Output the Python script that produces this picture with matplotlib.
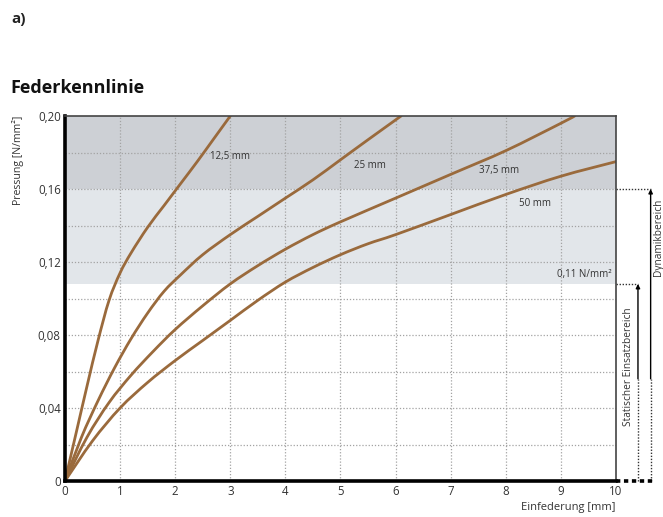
import matplotlib
matplotlib.use("Agg")
import matplotlib.pyplot as plt
from matplotlib.path import Path
from matplotlib.patches import PathPatch

plt.rcParams['font.family'] = ['Open Sans', 'DejaVu Sans']

# Spring characteristic curves: deflection [mm] vs. pressure [N/mm²] per thickness
x_125 = [0, 0.2, 0.4, 0.6, 0.8, 1.0, 1.2, 1.5, 1.8, 2.1, 2.4, 2.7, 3.0]
y_125 = [0, 0.026, 0.052, 0.077, 0.099, 0.114, 0.125, 0.139, 0.151, 0.163, 0.175, 0.1875, 0.20]

x_25 = [0, 0.3, 0.6, 0.9, 1.2, 1.5, 1.8, 2.1, 2.5, 3.0, 3.5, 4.0, 4.5, 5.0, 5.5, 6.1]
y_25 = [0, 0.024, 0.044, 0.062, 0.078, 0.092, 0.104, 0.113, 0.124, 0.135, 0.145,
        0.155, 0.165, 0.176, 0.187, 0.20]

x_375 = [0, 0.4, 0.8, 1.2, 1.6, 2.0, 2.5, 3.0, 3.5, 4.0, 4.5, 5.0, 6.0, 7.0, 8.0, 9.0, 9.25]
y_375 = [0, 0.024, 0.043, 0.058, 0.071, 0.083, 0.096, 0.108, 0.118, 0.127, 0.135,
         0.142, 0.155, 0.168, 0.181, 0.196, 0.20]

x_50 = [0, 0.5, 1.0, 1.5, 2.0, 2.5, 3.0, 3.5, 4.0, 4.5, 5.0, 5.5, 6.0, 7.0, 8.0, 9.0, 10.0]
y_50 = [0, 0.022, 0.040, 0.054, 0.066, 0.077, 0.088, 0.099, 0.109, 0.117, 0.124,
        0.130, 0.135, 0.146, 0.157, 0.167, 0.175]

curve_labels = ["12,5 mm", "25 mm", "37,5 mm", "50 mm"]
label_pos = [(3.0, 0.178), (5.54, 0.173), (7.88, 0.170), (8.53, 0.152)]

x_ticks = [0, 1, 2, 3, 4, 5, 6, 7, 8, 9, 10]
y_ticks = [0, 0.04, 0.08, 0.12, 0.16, 0.20]
y_tick_labels = ["0", "0,04", "0,08", "0,12", "0,16", "0,20"]

static_limit = 0.108   # upper end of static range (0,11 N/mm²)
dynamic_limit = 0.16   # upper end of dynamic range

curve_color = "#9a6a3c"
text_color = "#333333"


def smooth_path(xs, ys):
    """Catmull-Rom curve through the given points, as cubic Bezier segments."""
    pts = list(zip(xs, ys))
    verts = [pts[0]]
    codes = [Path.MOVETO]
    n = len(pts)
    for i in range(n - 1):
        p0 = pts[i - 1] if i > 0 else pts[i]
        p1 = pts[i]
        p2 = pts[i + 1]
        p3 = pts[i + 2] if i + 2 < n else pts[i + 1]
        c1 = (p1[0] + (p2[0] - p0[0]) / 6, p1[1] + (p2[1] - p0[1]) / 6)
        c2 = (p2[0] - (p3[0] - p1[0]) / 6, p2[1] - (p3[1] - p1[1]) / 6)
        verts += [c1, c2, p2]
        codes += [Path.CURVE4] * 3
    return Path(verts, codes)


fig = plt.figure(figsize=(6.63, 5.17), dpi=100)
ax = fig.add_axes([0.098, 0.0696, 0.831, 0.706])

ax.set_xlim(0, 10)
ax.set_ylim(0, 0.20)

# Shaded ranges
ax.axhspan(dynamic_limit, 0.20, color="#cdd0d5", zorder=0, lw=0)
ax.axhspan(static_limit, dynamic_limit, color="#e2e6ea", zorder=0, lw=0)

# Dotted grid
for gx in range(1, 10):
    ax.axvline(gx, color="#a3a3a3", lw=0.9, ls=(0, (1, 1.5)), zorder=1)
for gy in [0.02, 0.04, 0.06, 0.08, 0.10, 0.12, 0.14, 0.16, 0.18]:
    ax.axhline(gy, color="#a3a3a3", lw=0.9, ls=(0, (1, 1.5)), zorder=1)

for xs, ys in [(x_125, y_125), (x_25, y_25), (x_375, y_375), (x_50, y_50)]:
    patch = PathPatch(smooth_path(xs, ys), facecolor="none", edgecolor=curve_color,
                      lw=2.0, zorder=3, capstyle="round", joinstyle="round")
    ax.add_patch(patch)

for lab, (lx, ly) in zip(curve_labels, label_pos):
    ax.text(lx, ly, lab, ha="center", va="center", fontsize=7.0,
            color=text_color, zorder=4)

ax.text(9.93, static_limit + 0.002, "0,11 N/mm²", ha="right", va="bottom",
        fontsize=7.0, color=text_color, zorder=4)

# Axes styling
ax.set_xticks(x_ticks)
ax.set_xticklabels([str(t) for t in x_ticks])
ax.set_yticks(y_ticks)
ax.set_yticklabels(y_tick_labels)
ax.tick_params(length=0, labelsize=8.3, colors=text_color, pad=3)
for s in ["left", "bottom"]:
    ax.spines[s].set_linewidth(2.6)
    ax.spines[s].set_color("black")
for s in ["top", "right"]:
    ax.spines[s].set_linewidth(1.2)
    ax.spines[s].set_color("#444444")
for sp in ax.spines.values():
    sp.set_zorder(5)

ax.text(-0.085, 1.0, "Pressung [N/mm²]", transform=ax.transAxes, rotation=90,
        ha="center", va="top", fontsize=7.6, color=text_color)
ax.text(1.0, -0.058, "Einfederung [mm]", transform=ax.transAxes,
        ha="right", va="top", fontsize=8.0, color=text_color)

# Range markers to the right of the plot
x_stat = 10.40
x_dyn = 10.63
y_solid_end = 0.056
dot = dict(color="#333333", lw=1.0, ls=(0, (1, 1.2)), clip_on=False)

ax.plot([10, x_stat], [static_limit, static_limit], **dot)
ax.plot([10, x_dyn], [dynamic_limit, dynamic_limit], **dot)
ax.plot([x_stat, x_stat], [0, y_solid_end], **dot)
ax.plot([x_dyn, x_dyn], [0, y_solid_end], **dot)
ax.plot([10, 10.71], [0, 0], color="black", lw=2.6, ls=(0, (1.2, 1.0)),
        clip_on=False)

arrow = dict(arrowstyle="-|>", color="black", lw=1.0, mutation_scale=6,
             shrinkA=0, shrinkB=0)
ax.annotate("", xy=(x_stat, static_limit), xytext=(x_stat, y_solid_end),
            arrowprops=arrow, annotation_clip=False)
ax.annotate("", xy=(x_dyn, dynamic_limit), xytext=(x_dyn, y_solid_end),
            arrowprops=arrow, annotation_clip=False)

ax.text(10.22, 0.0625, "Statischer Einsatzbereich", rotation=90,
        ha="center", va="center", fontsize=7.3, color=text_color, clip_on=False)
ax.text(10.78, 0.1335, "Dynamikbereich", rotation=90,
        ha="center", va="center", fontsize=7.3, color=text_color, clip_on=False)

# Headings
fig.text(10 / 663, 1 - 88 / 517, "Federkennlinie", ha="left", va="center",
         fontsize=13, fontweight="bold", color="#111111")
fig.text(11 / 663, 1 - 19 / 517, "a)", ha="left", va="center",
         fontsize=11, fontweight="bold", color="#222222")

fig.savefig("out.png", dpi=100)
